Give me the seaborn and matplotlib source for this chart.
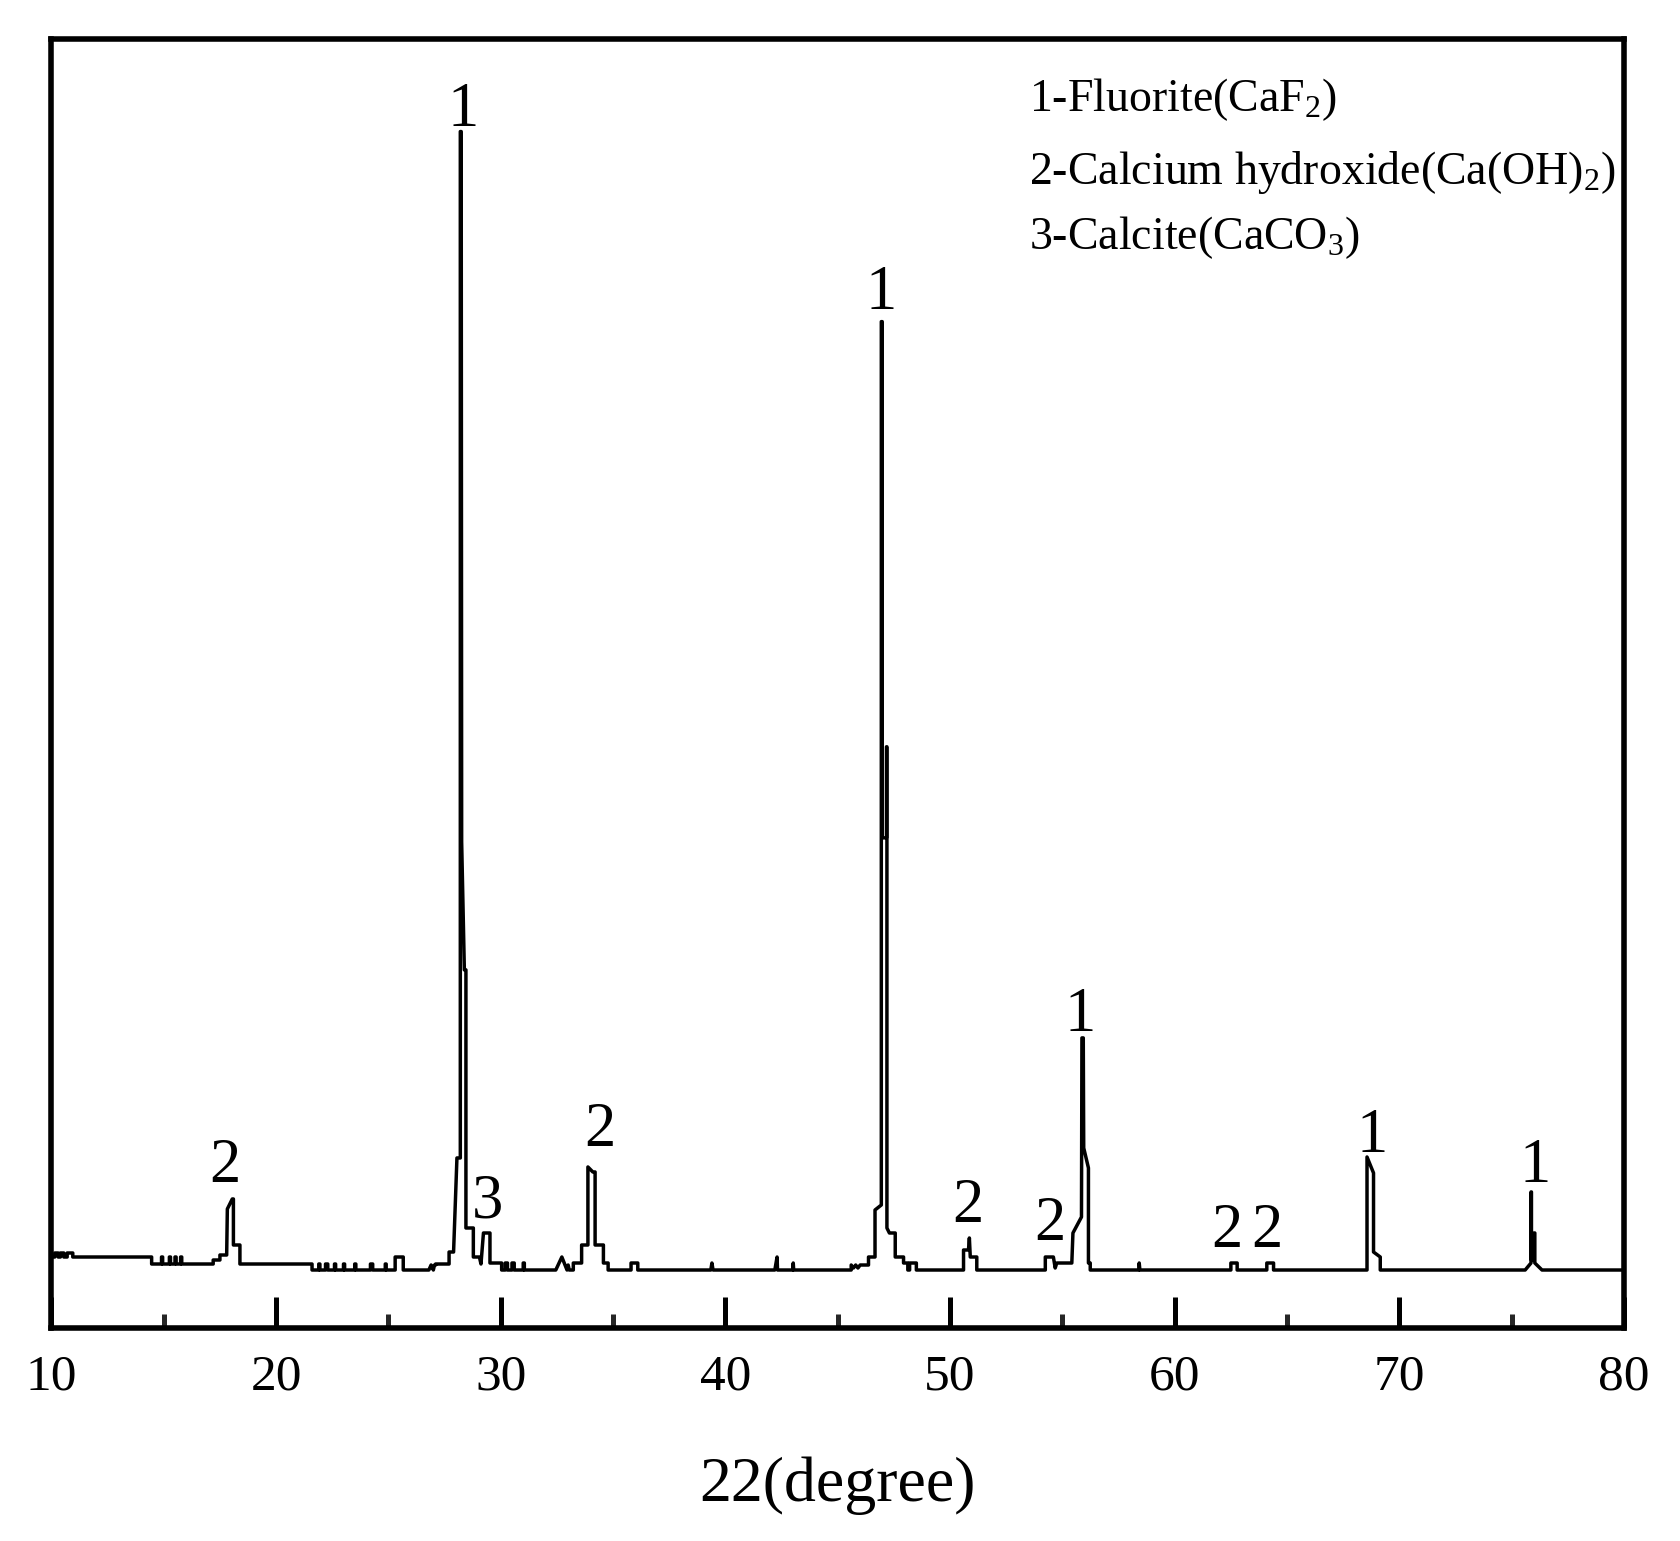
import numpy as np
import pandas as pd
import matplotlib
matplotlib.use("Agg")
import matplotlib.pyplot as plt
import seaborn as sns

# XRD trace (2theta in degree, intensity in arbitrary units)
two_theta = [10.0, 10.15, 10.15, 10.3, 10.3, 10.4, 10.4, 10.55, 10.55, 10.7, 10.7, 10.95, 10.95,
             14.46, 14.46, 14.9, 14.9, 14.95, 14.95, 15.25, 15.25, 15.3, 15.3, 15.5, 15.5, 15.55, 15.55,
             15.75, 15.75, 15.8, 15.8,
             17.2, 17.2, 17.5, 17.5, 17.8, 17.83, 18.05, 18.1, 18.1, 18.39, 18.39,
             21.6, 21.6, 21.9, 21.9, 21.95, 21.95, 22.2, 22.2, 22.3, 22.3, 22.6, 22.6, 22.65, 22.65,
             23.0, 23.0, 23.05, 23.05, 23.5, 23.5, 23.55, 23.55, 24.2, 24.2, 24.3, 24.3,
             24.86, 24.86, 24.9, 24.9, 25.3, 25.3, 25.66, 25.66,
             26.8, 26.9, 27.0, 27.05, 27.1, 27.1, 27.7, 27.7, 27.9, 28.05, 28.2, 28.2,
             28.24, 28.26, 28.38, 28.45, 28.45, 28.78, 28.78, 29.05, 29.12, 29.23, 29.52, 29.52,
             30.04, 30.04, 30.2, 30.2, 30.3, 30.3, 30.5, 30.5, 30.6, 30.6, 31.0, 31.0, 31.05, 31.05,
             32.45, 32.72, 32.95, 33.0, 33.05, 33.23, 33.23, 33.6, 33.6, 33.88, 33.88, 34.1, 34.2, 34.2,
             34.57, 34.57, 34.78, 34.78,
             35.8, 35.8, 36.1, 36.1, 39.35, 39.4, 39.45, 42.2, 42.3, 42.32, 43.0, 43.02, 43.04,
             45.6, 45.6, 45.7, 45.8, 45.9, 46.0, 46.37, 46.37, 46.66, 46.66, 46.94, 46.94,
             46.98, 46.98, 47.17, 47.17, 47.19, 47.19, 47.3, 47.56, 47.56, 47.93, 47.93, 48.12, 48.12,
             48.2, 48.2, 48.5, 48.5,
             50.6, 50.6, 50.82, 50.86, 50.9, 51.19, 51.19,
             54.24, 54.24, 54.6, 54.68, 54.75, 55.42, 55.47, 55.85, 55.87, 55.93, 55.95, 56.16, 56.16,
             56.24, 56.24,
             58.4, 58.42, 58.45, 62.5, 62.5, 62.78, 62.78, 64.1, 64.1, 64.4, 64.4,
             68.56, 68.56, 68.85, 68.85, 69.15, 69.15,
             75.6, 75.86, 75.86, 75.88, 75.88, 76.0, 76.0, 76.03, 76.03, 76.35, 80.0]
intensity = [13, 13, 17, 17, 13, 13, 17, 17, 13, 13, 17, 17, 13,
             13, 6, 6, 13, 13, 6, 6, 13, 13, 6, 6, 13, 13, 6,
             6, 13, 13, 6,
             6, 10, 10, 15, 15, 61, 71, 71, 25, 25, 6,
             6, 0, 0, 6, 6, 0, 0, 6, 6, 0, 0, 6, 6, 0,
             0, 6, 6, 0, 0, 6, 6, 0, 0, 6, 6, 0,
             0, 6, 6, 0, 0, 13, 13, 0,
             0, 5, 0, 5, 5, 6, 6, 18, 18, 112, 112, 1138,
             1138, 428, 300, 300, 42, 42, 13, 13, 6, 37, 37, 7,
             7, 0, 0, 7, 7, 0, 0, 7, 7, 0, 0, 7, 7, 0,
             0, 13, 0, 5, 0, 0, 7, 7, 25, 25, 103, 98, 98, 25,
             25, 7, 7, 0,
             0, 7, 7, 0, 0, 7, 0, 0, 13, 0, 0, 7, 0,
             0, 5, 2, 5, 2, 5, 5, 13, 13, 60, 65, 948,
             948, 432, 432, 523, 523, 42, 37, 37, 13, 13, 7, 7, 0,
             0, 7, 7, 0,
             0, 20, 20, 32, 13, 13, 0,
             0, 13, 13, 2, 7, 7, 37, 53, 232, 232, 122, 102, 7,
             7, 0,
             0, 7, 0, 0, 7, 7, 0, 0, 7, 7, 0,
             0, 113, 97, 18, 13, 0,
             0, 7, 78, 78, 10, 10, 37, 37, 7, 0, 0]

# peak labels (phase number) and where they sit (baseline of the digit)
peak_labels = ['2', '1', '3', '2', '1', '2', '2', '1', '2', '2', '1', '1']
label_x = [17.73, 28.32, 29.43, 34.42, 46.92, 50.8, 54.45, 55.77, 62.3, 64.1, 68.79, 76.05]
label_y = [88, 1144, 52, 124, 961, 48, 30, 239, 23, 23, 118, 88]

legend_lines = ['1-Fluorite(CaF$_2$)',
                '2-Calcium hydroxide(Ca(OH)$_2$)',
                '3-Calcite(CaCO$_3$)']

xrd = pd.DataFrame({'two_theta': two_theta, 'intensity': intensity})

sns.set_theme(style="white")
plt.rcParams['font.family'] = ['Liberation Serif', 'DejaVu Serif']
plt.rcParams['mathtext.fontset'] = 'custom'
plt.rcParams['mathtext.rm'] = 'Liberation Serif'
plt.rcParams['mathtext.it'] = 'Liberation Serif:italic'

fig = plt.figure(figsize=(16.81, 15.41), dpi=100)
ax = fig.add_axes([0.0306, 0.1382, 0.9355, 0.8368])

sns.lineplot(data=xrd, x='two_theta', y='intensity', estimator=None, sort=False,
             color='black', linewidth=2.5, ax=ax)

for lab, lx, ly in zip(peak_labels, label_x, label_y):
    ax.text(lx, ly, lab, ha='center', va='baseline', fontsize=45, color='black')

for i, line in enumerate(legend_lines):
    fig.text(1029 / 1681, 1 - [111.5, 184.4, 248.7][i] / 1541, line,
             ha='left', va='baseline', fontsize=33, color='black')

ax.set_xlim(10, 80)
ax.set_ylim(-58, 1231)
ax.set_xticks(np.arange(10, 81, 10))
ax.set_xticks(np.arange(15, 80, 10), minor=True)
ax.set_yticks([])
ax.tick_params(axis='x', which='major', direction='in', length=22, width=3.6,
               labelsize=37, pad=19, colors='black', bottom=True)
ax.tick_params(axis='x', which='minor', direction='in', length=10, width=3.6, bottom=True)
ax.set_xlabel('22(degree)', fontsize=46, labelpad=40, color='black')
ax.set_ylabel('')
for s in ax.spines.values():
    s.set_linewidth(4)
    s.set_color('black')

fig.savefig('out.png', dpi=100, facecolor='white')
